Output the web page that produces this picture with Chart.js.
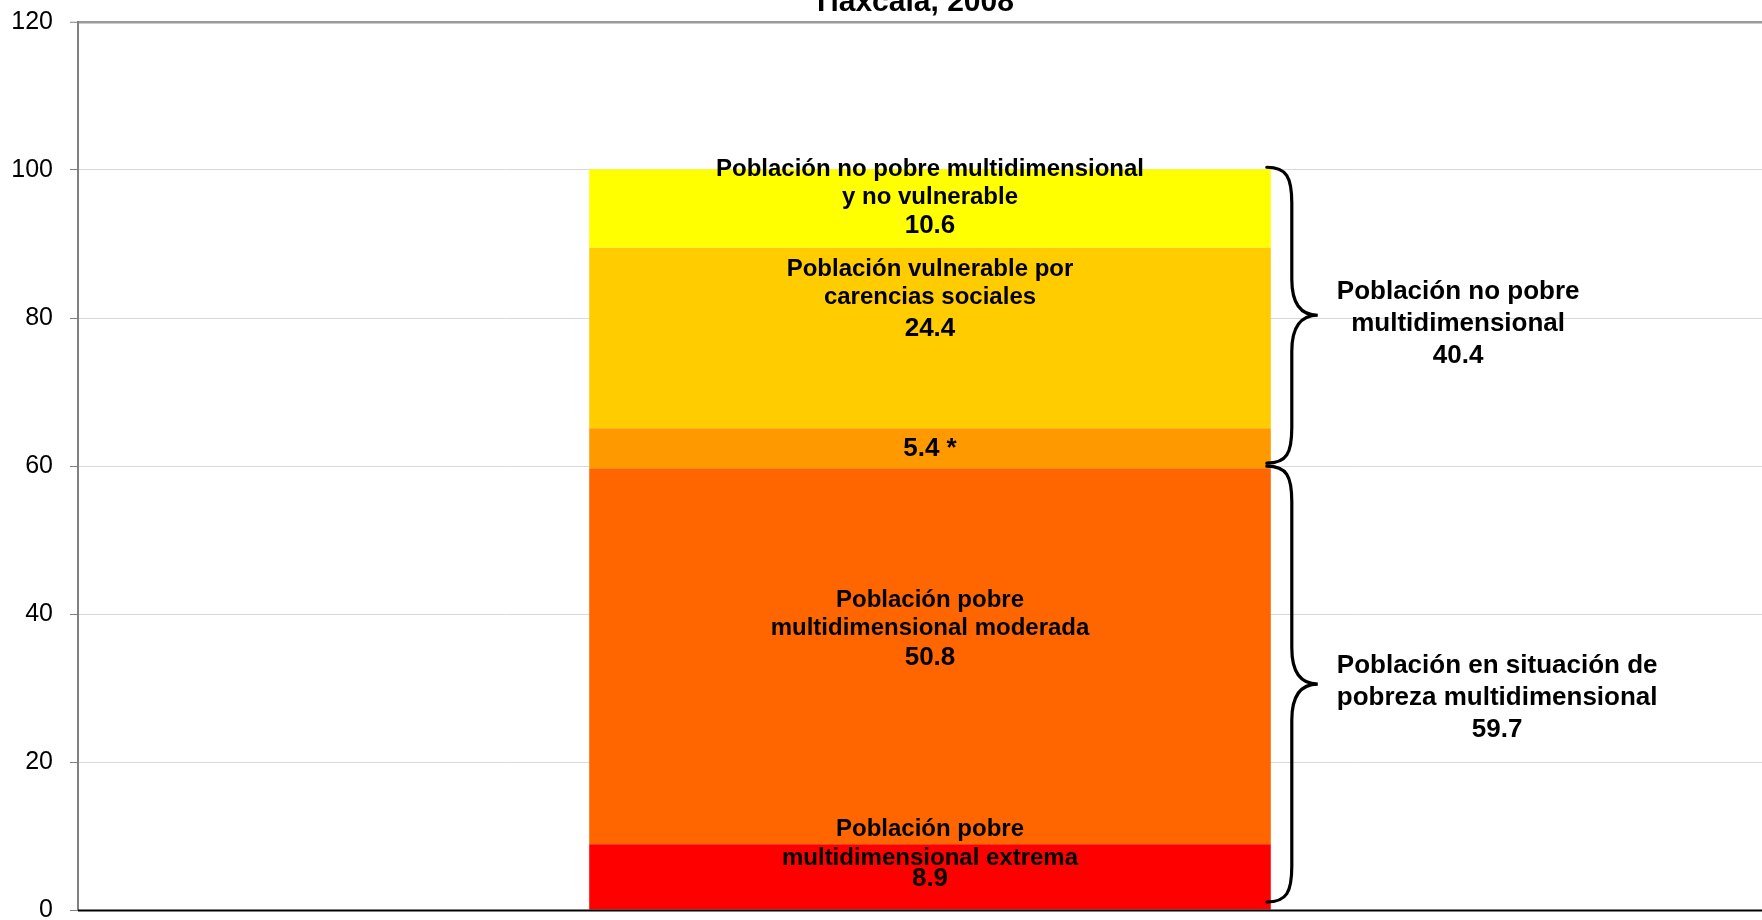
<!DOCTYPE html>
<html lang="es">
<head>
  <meta charset="UTF-8" />
  <title>Pobreza multidimensional - Tlaxcala, 2008</title>
  <script src="https://cdn.jsdelivr.net/npm/chart.js"></script>
  <style>
    html, body {
      margin: 0;
      padding: 0;
      background: #ffffff;
      overflow: hidden;
    }
    .chart-box {
      width: 1792px;
      height: 990px;
      margin-top: -40px;
      position: relative;
    }
  </style>
</head>
<body>
  <div class="chart-box">
    <canvas id="povertyChart"></canvas>
  </div>

  <script>
    // --- data ---
    const categories = ["Tlaxcala, 2008"];
    const seriesNames = [
      "Población pobre multidimensional extrema",
      "Población pobre multidimensional moderada",
      "Población vulnerable por ingresos",
      "Población vulnerable por carencias sociales",
      "Población no pobre multidimensional y no vulnerable"
    ];
    const seriesValues = [8.9, 50.8, 5.4, 24.4, 10.6];
    const seriesColors = ["#ff0000", "#ff6600", "#ff9900", "#ffcc00", "#ffff00"];
    const yTicks = [0, 20, 40, 60, 80, 100, 120];

    // text written inside the bar, one entry per segment (value line is added below)
    const barLabelLines = [
      ["Población pobre", "multidimensional extrema"],
      ["Población pobre", "multidimensional moderada"],
      [],
      ["Población vulnerable por", "carencias sociales"],
      ["Población no pobre multidimensional", "y no vulnerable"]
    ];
    const barLabelSuffix = ["", "", " *", "", ""];
    // where each label starts (axis value of first line) and gaps between lines in px
    const barLabelAt = [10.95, 41.8, 62.3, 86.6, 100.1];
    const barLabelGaps = [[29, 21], [28, 29], [], [28, 32], [28, 29]];

    // brackets on the right: which segments they group
    const groupNames = [
      ["Población en situación de", "pobreza multidimensional"],
      ["Población no pobre", "multidimensional"]
    ];
    const groupMembers = [[0, 1], [2, 3, 4]];
    const groupLabelAt = [33.0, 83.5];

    const FONT = "'Liberation Sans', Arial, sans-serif";

    const annotations = {
      id: "annotations",
      afterDatasetsDraw(chart) {
        const ctx = chart.ctx;
        const y = chart.scales.y;
        const area = chart.chartArea;
        const bar = chart.getDatasetMeta(0).data[0];
        const barRight = bar.x + bar.width / 2;
        const barX = bar.x;

        ctx.save();

        // base line over the bar bottom
        ctx.strokeStyle = "#000000";
        ctx.lineWidth = 2;
        ctx.beginPath();
        ctx.moveTo(area.left, y.getPixelForValue(0) + 0.5);
        ctx.lineTo(area.right, y.getPixelForValue(0) + 0.5);
        ctx.stroke();

        // labels inside the bar
        ctx.fillStyle = "#000000";
        ctx.textAlign = "center";
        ctx.textBaseline = "middle";
        seriesValues.forEach((v, i) => {
          let py = y.getPixelForValue(barLabelAt[i]);
          const lines = barLabelLines[i];
          lines.forEach((txt, k) => {
            ctx.font = "bold 24px " + FONT;
            ctx.fillText(txt, barX, py);
            py += barLabelGaps[i][k];
          });
          ctx.font = "bold 26px " + FONT;
          ctx.fillText(v.toFixed(1) + barLabelSuffix[i], barX, py);
        });

        // braces + group labels
        ctx.lineWidth = 3.2;
        ctx.lineCap = "round";
        groupMembers.forEach((members, g) => {
          let lo = 0;
          for (let i = 0; i < members[0]; i++) lo += seriesValues[i];
          let total = 0;
          members.forEach(m => total += seriesValues[m]);
          const yTop = y.getPixelForValue(lo + total) - 2;
          const yBot = y.getPixelForValue(lo) - (lo === 0 ? 8 : 5);
          drawBrace(ctx, barRight - 4, yTop, yBot);

          const lines = groupNames[g].concat([total.toFixed(1)]);
          ctx.font = "bold 26px " + FONT;
          let maxW = 0;
          lines.forEach(t => maxW = Math.max(maxW, ctx.measureText(t).width));
          const cx = barRight + 66 + maxW / 2;
          let py = y.getPixelForValue(groupLabelAt[g]);
          lines.forEach(t => {
            ctx.fillText(t, cx, py);
            py += 32;
          });
        });

        // title (first line lies above the picture)
        ctx.font = "bold 30px " + FONT;
        ctx.textBaseline = "alphabetic";
        ctx.fillText(categories[0], 913, area.top - 11);

        ctx.restore();
      }
    };

    function drawBrace(ctx, x0, yTop, yBot) {
      const xv = x0 + 25;
      const xt = x0 + 51;
      const ym = (yTop + yBot) / 2;
      const r = 36;
      ctx.beginPath();
      ctx.moveTo(x0, yTop);
      ctx.bezierCurveTo(x0 + 20, yTop, xv, yTop + 10, xv, yTop + r);
      ctx.lineTo(xv, ym - r);
      ctx.bezierCurveTo(xv, ym - 8, xt - 14, ym, xt, ym);
      ctx.bezierCurveTo(xt - 14, ym, xv, ym + 8, xv, ym + r);
      ctx.lineTo(xv, yBot - r);
      ctx.bezierCurveTo(xv, yBot - 10, x0 + 20, yBot, x0, yBot);
      ctx.stroke();
    }

    const chartCtx = document.getElementById("povertyChart").getContext("2d");
    new Chart(chartCtx, {
      type: "bar",
      data: {
        labels: categories,
        datasets: seriesValues.map((v, i) => ({
          label: seriesNames[i],
          data: [v],
          backgroundColor: seriesColors[i],
          borderWidth: 0,
          barPercentage: 0.4,
          categoryPercentage: 1
        }))
      },
      options: {
        responsive: true,
        maintainAspectRatio: false,
        animation: false,
        layout: {
          padding: { top: 62, right: 10, bottom: 40, left: 0 }
        },
        plugins: {
          legend: { display: false },
          tooltip: { enabled: false },
          title: { display: false }
        },
        scales: {
          x: {
            stacked: true,
            display: false
          },
          y: {
            stacked: true,
            min: 0,
            max: 120,
            afterBuildTicks(scale) {
              scale.ticks = yTicks.map(v => ({ value: v }));
            },
            afterFit(scale) {
              scale.width = 78;
            },
            border: { display: true, color: "#808080", width: 2 },
            grid: {
              color: c => c.tick.value === 120 ? "#9a9a9a" : "#d9d9d9",
              lineWidth: c => c.tick.value === 120 ? 2.5 : 1,
              drawTicks: true,
              tickLength: 8,
              tickColor: "#808080",
              tickWidth: 1
            },
            ticks: {
              padding: 17,
              color: "#000000",
              font: { family: FONT, size: 25 }
            }
          }
        }
      },
      plugins: [annotations]
    });
  </script>
</body>
</html>
